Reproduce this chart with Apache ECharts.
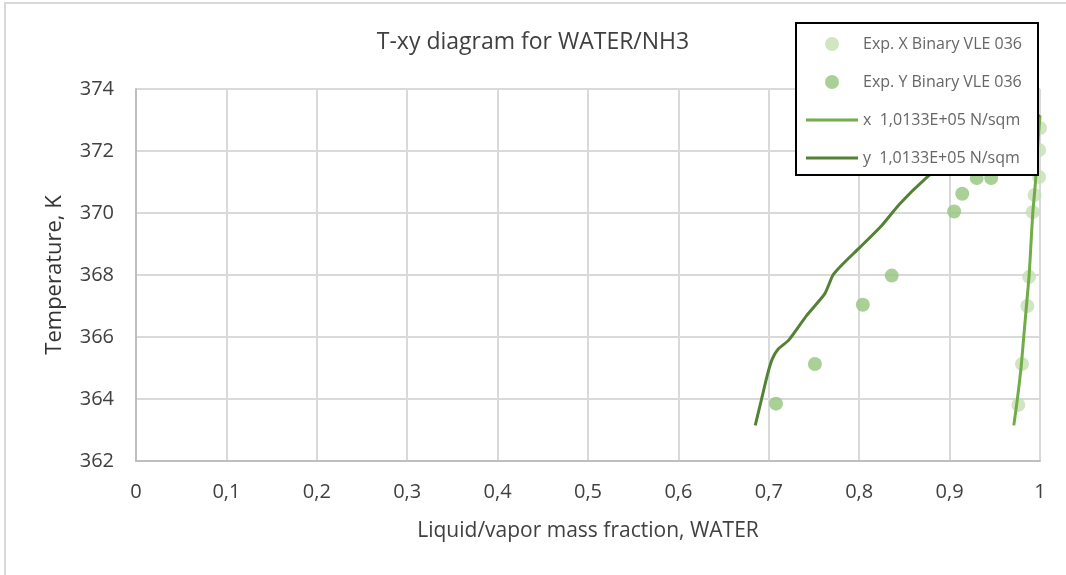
<!DOCTYPE html>
<html lang="en">
<head>
    <meta charset="UTF-8">
    <title>T-xy diagram for WATER/NH3</title>
    <style>
        html, body { margin: 0; padding: 0; background: #fff; }
        #chart { width: 1066px; height: 575px; }
    </style>
</head>
<body>
    <div id="chart"></div>
    <script src="https://cdn.jsdelivr.net/npm/echarts@6/dist/echarts.min.js"></script>
    <script>
        // 实验点 X（液相）
        const expXFrac = [0.976, 0.980, 0.986, 0.988, 0.992, 0.994, 0.999, 0.999, 1.000];
        const expXTemp = [363.81, 365.13, 367.00, 367.94, 370.03, 370.58, 371.16, 372.03, 372.74];
        // 实验点 Y（气相）
        const expYFrac = [0.708, 0.751, 0.804, 0.836, 0.905, 0.914, 0.930, 0.946];
        const expYTemp = [363.85, 365.13, 367.04, 367.98, 370.05, 370.62, 371.13, 371.13];
        // 计算曲线 x
        const calcXFrac = [0.971, 0.975, 0.979, 0.982, 0.985, 0.988, 0.990, 0.992, 0.995, 0.997, 1.000];
        const calcXTemp = [363.15, 364.0, 365.0, 366.0, 367.0, 368.0, 369.0, 370.0, 371.0, 372.0, 373.15];
        // 计算曲线 y
        const calcYFrac = [0.685, 0.692, 0.699, 0.704, 0.710, 0.722, 0.742, 0.762, 0.771, 0.780, 0.801, 0.825, 0.845, 0.873, 0.910, 1.000];
        const calcYTemp = [363.15, 364.0, 364.84, 365.3, 365.6, 365.9, 366.7, 367.4, 368.0, 368.3, 368.9, 369.6, 370.3, 371.1, 372.0, 373.15];
        const xTicks = [0, 1, 0.1];      // min, max, interval
        const yTicks = [362, 374, 2];

        const pairs = (xs, ys) => xs.map((v, i) => [v, ys[i]]);
        const font = '"Open Sans", "Noto Sans", sans-serif';
        // 图例里的线段图标（M 点撑开包围盒）
        const lineIcon = 'path://M0,0 M0,5.5 L52,5.5 L52,8.5 L0,8.5 Z M52,14';

        const myChart = echarts.init(document.getElementById('chart'));
        const option = {
            backgroundColor: '#fff',
            animation: false,
            textStyle: { fontFamily: font },
            title: {
                text: 'T-xy diagram for WATER/NH3',
                left: 'center',
                top: 26,
                textStyle: { fontSize: 23, fontWeight: 'normal', color: '#404040', fontFamily: font }
            },
            graphic: [{
                type: 'rect',
                shape: { x: 5, y: 3, width: 1080, height: 600 },
                style: { fill: 'none', stroke: '#d9d9d9', lineWidth: 2 },
                z: 1
            }, {
                type: 'rect',
                shape: { x: 796, y: 23, width: 242, height: 152 },
                style: { fill: '#fff', stroke: '#000', lineWidth: 2 },
                z: 50
            }],
            legend: {
                orient: 'vertical',
                left: 799,
                top: 36,
                z: 60,
                itemWidth: 52,
                itemHeight: 14,
                itemGap: 22,
                padding: [0, 0, 0, 7],
                textStyle: { fontSize: 16, color: '#666', fontFamily: font },
                data: [
                    { name: 'Exp. X Binary VLE 036', icon: 'circle' },
                    { name: 'Exp. Y Binary VLE 036', icon: 'circle' },
                    { name: 'x  1,0133E+05 N/sqm', icon: lineIcon },
                    { name: 'y  1,0133E+05 N/sqm', icon: lineIcon }
                ]
            },
            grid: { left: 136, right: 26, top: 89, bottom: 114 },
            xAxis: {
                type: 'value',
                min: xTicks[0],
                max: xTicks[1],
                interval: xTicks[2],
                name: 'Liquid/vapor mass fraction, WATER',
                nameLocation: 'middle',
                nameGap: 60,
                nameTextStyle: { fontSize: 21, color: '#404040', fontFamily: font },
                axisLine: { lineStyle: { color: '#bfbfbf', width: 2 } },
                axisTick: { show: false },
                axisLabel: {
                    fontSize: 20, color: '#404040', margin: 21,
                    formatter: v => String(+v.toFixed(1)).replace('.', ',')
                },
                splitLine: { show: true, lineStyle: { color: '#d9d9d9', width: 2 } }
            },
            yAxis: {
                type: 'value',
                min: yTicks[0],
                max: yTicks[1],
                interval: yTicks[2],
                name: 'Temperature, K',
                nameLocation: 'middle',
                nameGap: 70,
                nameTextStyle: { fontSize: 22, color: '#333', fontFamily: font },
                axisLine: { show: true, lineStyle: { color: '#bfbfbf', width: 2 } },
                axisTick: { show: false },
                axisLabel: { fontSize: 20, color: '#404040', margin: 22 },
                splitLine: { show: true, lineStyle: { color: '#d9d9d9', width: 2 } }
            },
            series: [{
                name: 'Exp. X Binary VLE 036',
                type: 'scatter',
                symbolSize: 14,
                itemStyle: { color: '#c5dfb4' },
                data: pairs(expXFrac, expXTemp)
            }, {
                name: 'Exp. Y Binary VLE 036',
                type: 'scatter',
                symbolSize: 14,
                itemStyle: { color: '#93c47d' },
                data: pairs(expYFrac, expYTemp)
            }, {
                name: 'x  1,0133E+05 N/sqm',
                type: 'line',
                symbol: 'none',
                smooth: 0.2,
                lineStyle: { color: '#70ad47', width: 3 },
                itemStyle: { color: '#70ad47' },
                data: pairs(calcXFrac, calcXTemp)
            }, {
                name: 'y  1,0133E+05 N/sqm',
                type: 'line',
                symbol: 'none',
                smooth: 0.2,
                lineStyle: { color: '#548235', width: 3 },
                itemStyle: { color: '#548235' },
                data: pairs(calcYFrac, calcYTemp)
            }]
        };
        myChart.setOption(option);
    </script>
</body>
</html>
